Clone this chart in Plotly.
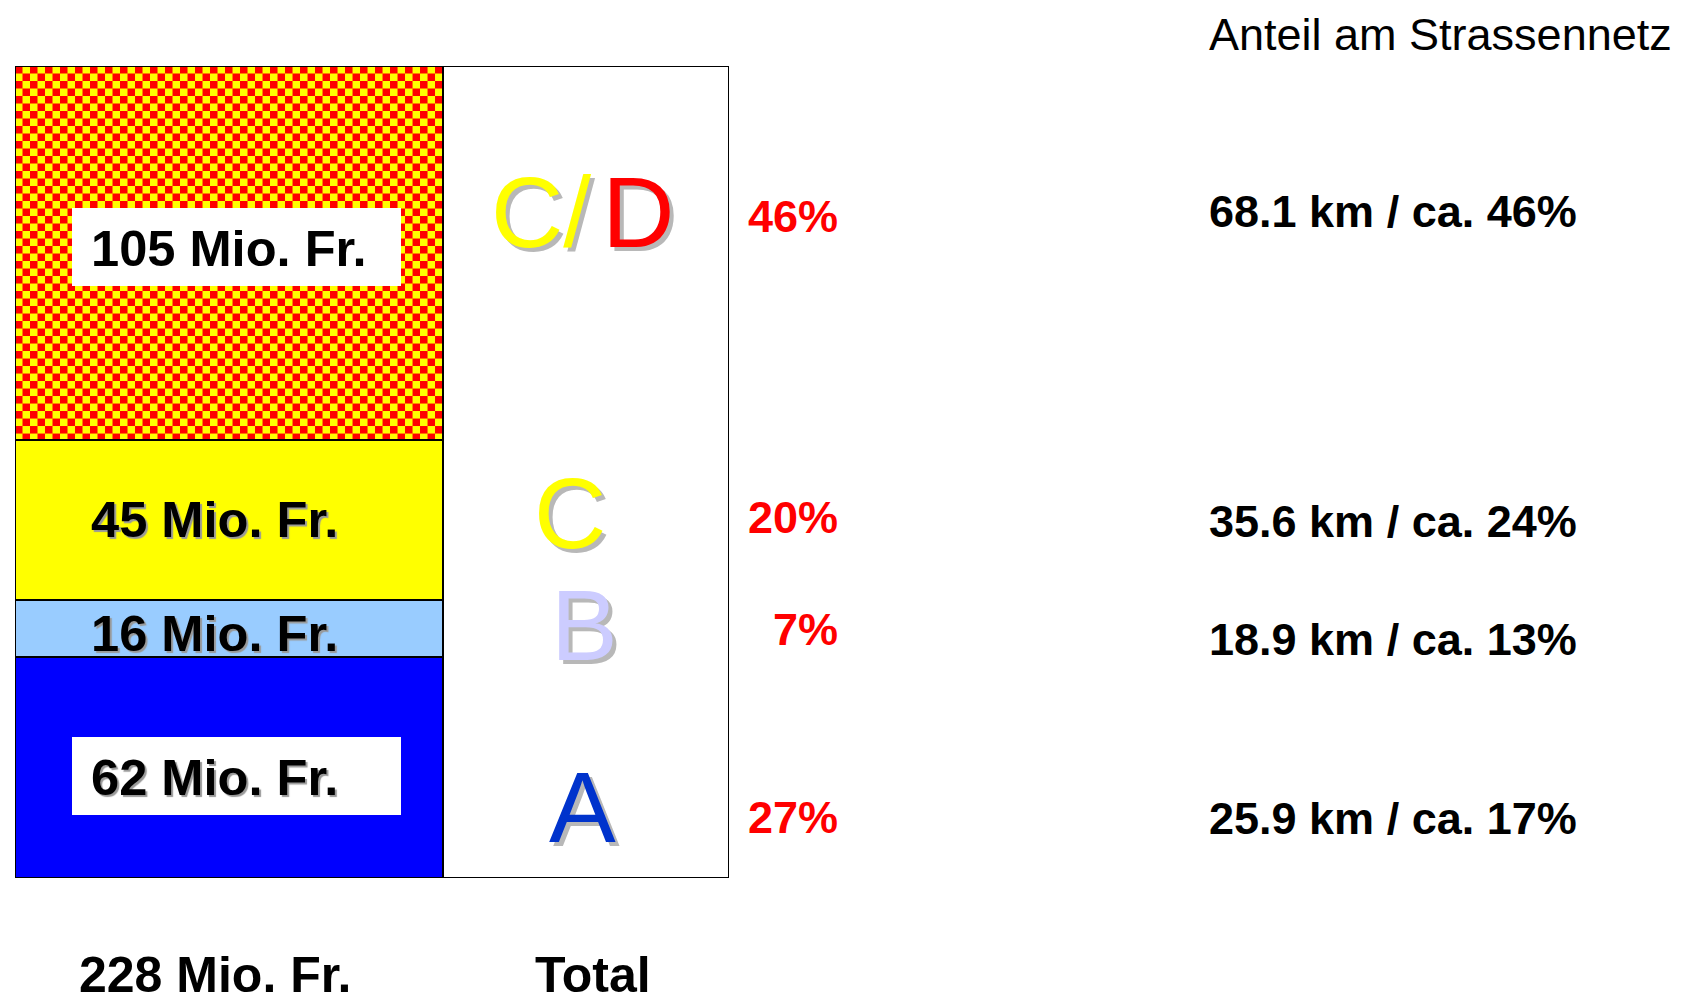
import base64
import plotly.graph_objects as go

# ---------------- data ----------------
categories = ["228 Mio. Fr.", "Total"]
segment_names = ["A", "B", "C", "C/D"]
segment_values = [62, 16, 45, 105]          # Mio. Fr.
segment_labels = ["62 Mio. Fr.", "16 Mio. Fr.", "45 Mio. Fr.", "105 Mio. Fr."]
total_value = 228
share_pct = ["27%", "7%", "20%", "46%"]
network_text = ["25.9 km / ca. 17%", "18.9 km / ca. 13%",
                "35.6 km / ca. 24%", "68.1 km / ca. 46%"]
title_text = "Anteil am Strassennetz"

# ---------------- layout / style ----------------
OFF = 8                              # page body margin
W, H = 1691 - OFF, 1004 - OFF        # figure size
# page-pixel geometry of the plot area
PX_LEFT, PX_TOP, PX_BOTTOM, X_END_PX = 15, 66, 878, 729
ML, MT = PX_LEFT - OFF, PX_TOP - OFF
MB = H - (PX_BOTTOM - OFF)
MR = 0
PLOT_W = W - ML - MR
PLOT_H = H - MT - MB
BAR_W = [1.199, 0.801]              # relative widths of the two columns
FONT = "Liberation Sans, Arial, sans-serif"

seg_colors = ["#0000ff", "#99ccff", "#ffff00", "rgba(0,0,0,0)"]
letter_color = {"A": "#0033cc", "B": "#ccccff", "C": "#ffff00"}

# vertical page-pixel centres of the text rows (A, B, C, C/D)
label_y_px = [777, 633, 520, 248]
letter_y_px = [807, 625, 513, 212]
pct_y_px = [817, 630, 517, 217]
net_y_px = [818, 639, 521, 212]
letter_x_px = [582, 584, 570, 582]
boxed = [True, False, False, True]


def px_x(px):
    return (px - OFF - ML) / PLOT_W


def px_y(py):
    return (H - MB - (py - OFF)) / PLOT_H


fig = go.Figure()

for name, val, col in zip(segment_names, segment_values, seg_colors):
    fig.add_trace(go.Bar(
        x=[categories[0]], y=[val], width=[BAR_W[0]], name=name,
        marker=dict(color=col, line=dict(color="black", width=1.5)),
        hoverinfo="name+y",
    ))

fig.add_trace(go.Bar(
    x=[categories[1]], y=[total_value], width=[BAR_W[1]], name="Total",
    marker=dict(color="white", line=dict(color="black", width=1.5)),
    hoverinfo="name+y",
))

x_span = BAR_W[0] / 2 + 1 + BAR_W[1] / 2
x_dom_end = (X_END_PX - PX_LEFT) / PLOT_W
px_per_x = (X_END_PX - PX_LEFT) / x_span
px_per_y = PLOT_H / total_value

# checkerboard fill for the C/D segment (as an SVG image under the bar outline)
cw = BAR_W[0] * px_per_x
ch = segment_values[3] * px_per_y
sq = 7.5
svg = (f"<svg xmlns='http://www.w3.org/2000/svg' width='{cw:.1f}' height='{ch:.1f}' "
       f"viewBox='0 0 {cw:.1f} {ch:.1f}' preserveAspectRatio='none'>"
       f"<defs><pattern id='p' width='{2*sq}' height='{2*sq}' patternUnits='userSpaceOnUse'>"
       f"<rect width='{2*sq}' height='{2*sq}' fill='#ffff00'/>"
       f"<rect width='{sq}' height='{sq}' fill='#ff0000'/>"
       f"<rect x='{sq}' y='{sq}' width='{sq}' height='{sq}' fill='#ff0000'/>"
       f"</pattern></defs><rect width='100%' height='100%' fill='url(#p)'/></svg>")
src = "data:image/svg+xml;base64," + base64.b64encode(svg.encode()).decode()

fig.add_layout_image(dict(
    source=src, xref="x", yref="y", x=categories[0], y=sum(segment_values),
    sizex=BAR_W[0], sizey=segment_values[3], xanchor="center", yanchor="top",
    sizing="stretch", layer="below",
))

annotations = []
shapes = []

# segment labels inside the stacked column
for lab, ypx, bx in zip(segment_labels, label_y_px, boxed):
    if bx:
        shapes.append(dict(type="rect", xref="paper", yref="paper",
                           x0=px_x(72), x1=px_x(401),
                           y0=px_y(ypx + 38), y1=px_y(ypx - 40),
                           fillcolor="white", line=dict(width=0), layer="above"))
    annotations.append(dict(
        text=lab, xref="paper", yref="paper", x=px_x(89), y=px_y(ypx),
        xanchor="left", yanchor="middle", showarrow=False,
        font=dict(family=FONT, size=50.6, color="black", weight="bold",
                  shadow="none" if lab.startswith("105") else "2px 2px 1px #999999"),
    ))

# big letters in the Total column
for name, ypx, xpx in zip(segment_names, letter_y_px, letter_x_px):
    if name == "C/D":
        txt = ("<span style='color:#ffff00'>C/</span>"
               "<span style='font-size:40px'> </span>"
               "<span style='color:#ff0000'>D</span>")
        col = "#ffff00"
    else:
        txt = name
        col = letter_color[name]
    annotations.append(dict(
        text=txt, xref="paper", yref="paper", x=px_x(xpx), y=px_y(ypx),
        xanchor="center", yanchor="middle", showarrow=False,
        font=dict(family=FONT, size=100, color=col,
                  shadow="4px 4px 0px #b8b8b8"),
    ))

# red percentages
for p, ypx in zip(share_pct, pct_y_px):
    annotations.append(dict(
        text=p, xref="paper", yref="paper", x=px_x(840), y=px_y(ypx),
        xanchor="right", yanchor="middle", showarrow=False,
        font=dict(family=FONT, size=45, color="#ff0000", weight="bold"),
    ))

# road network share
for t, ypx in zip(network_text, net_y_px):
    annotations.append(dict(
        text=t, xref="paper", yref="paper", x=px_x(1207), y=px_y(ypx),
        xanchor="left", yanchor="middle", showarrow=False,
        font=dict(family=FONT, size=45, color="black", weight="bold"),
    ))

annotations.append(dict(
    text=title_text, xref="paper", yref="paper", x=px_x(1207), y=px_y(34),
    xanchor="left", yanchor="middle", showarrow=False,
    font=dict(family=FONT, size=45, color="black"),
))

# column labels below
for cat, xpx in zip(categories, [215, 593]):
    annotations.append(dict(
        text=cat, xref="paper", yref="paper", x=px_x(xpx), y=px_y(975),
        xanchor="center", yanchor="middle", showarrow=False,
        font=dict(family=FONT, size=50, color="black", weight="bold"),
    ))

fig.update_layout(
    width=W, height=H,
    margin=dict(l=ML, r=MR, t=MT, b=MB, pad=0),
    paper_bgcolor="white", plot_bgcolor="white",
    barmode="stack", showlegend=False,
    xaxis=dict(domain=[0, x_dom_end], range=[-BAR_W[0] / 2, 1 + BAR_W[1] / 2],
               showticklabels=False, showgrid=False, zeroline=False,
               showline=False, ticks="", fixedrange=True),
    yaxis=dict(range=[0, total_value], showticklabels=False, showgrid=False,
               zeroline=False, showline=False, ticks="", fixedrange=True),
    annotations=annotations, shapes=shapes,
)

fig.write_html("out.html", config={"displayModeBar": False})
